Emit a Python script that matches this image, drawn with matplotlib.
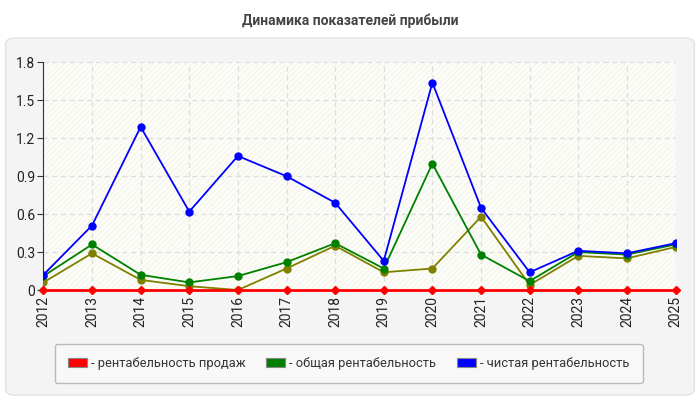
import matplotlib
matplotlib.use("Agg")
import matplotlib.pyplot as plt
from matplotlib.patches import FancyBboxPatch, Rectangle, Patch

plt.rcParams['font.family'] = ['Roboto', 'DejaVu Sans']
plt.rcParams['hatch.linewidth'] = 0.5

years = ['2012', '2013', '2014', '2015', '2016', '2017', '2018',
         '2019', '2020', '2021', '2022', '2023', '2024', '2025']
sales = [0, 0, 0, 0, 0, 0, 0, 0, 0, 0, 0, 0, 0, 0]
total = [0.11, 0.36, 0.12, 0.06, 0.11, 0.22, 0.37, 0.17, 1.00, 0.28, 0.07, 0.30, 0.28, 0.36]
net = [0.12, 0.51, 1.29, 0.62, 1.06, 0.90, 0.69, 0.23, 1.64, 0.65, 0.14, 0.31, 0.29, 0.37]
other = [0.06, 0.29, 0.08, 0.03, 0.00, 0.17, 0.35, 0.14, 0.17, 0.58, 0.04, 0.27, 0.25, 0.34]
yticks = [0, 0.3, 0.6, 0.9, 1.2, 1.5, 1.8]
ylabels = ['0', '0.3', '0.6', '0.9', '1.2', '1.5', '1.8']
legend_labels = ['- рентабельность продаж', '- общая рентабельность', '- чистая рентабельность']

fig = plt.figure(figsize=(7, 4), dpi=100)
fig.patch.set_facecolor('white')

# outer panel
panel = FancyBboxPatch((0.008, 0.012), 0.984, 0.893, boxstyle="round,pad=0,rounding_size=0.015",
                       transform=fig.transFigure, facecolor='#f4f4f4', edgecolor='#e2e2e2',
                       linewidth=1, zorder=-5)
fig.patches.append(panel)

fig.text(0.5, 0.948, 'Динамика показателей прибыли', ha='center', va='center',
         fontsize=10, fontweight='bold', color='#444444')

ax = fig.add_axes([0.062, 0.275, 0.903, 0.569])
ax.set_facecolor('#fdfdf7')
x = list(range(len(years)))
ax.add_patch(Rectangle((0, 0), 1, 1, transform=ax.transAxes, facecolor='none',
                       edgecolor='#f0f0ec', hatch='//////', linewidth=0, zorder=0))

ax.grid(True, color='#dddddd', linestyle=(0, (4, 3)), linewidth=0.9)
ax.set_axisbelow(True)

ax.plot(x, other, color='#808000', marker='o', markersize=5, linewidth=1.3, zorder=3)
ax.plot(x, total, color='#008000', marker='o', markersize=5, linewidth=1.3, zorder=4)
ax.plot(x, net, color='#0000ff', marker='o', markersize=5, linewidth=1.3, zorder=5)
ax.plot(x, sales, color='#ff0000', marker='D', markersize=4, linewidth=2, zorder=6, clip_on=False)

ax.set_xlim(0, len(years) - 1)
ax.set_ylim(0, 1.8)
ax.set_xticks(x)
ax.set_xticklabels(years, rotation=90, fontsize=10, color='#222222')
ax.set_yticks(yticks)
ax.set_yticklabels(ylabels, fontsize=10, color='#222222')
ax.tick_params(axis='x', length=0, pad=4)
ax.tick_params(axis='y', length=4, color='#333333', pad=2)
for s in ['top', 'right', 'bottom']:
    ax.spines[s].set_visible(False)
ax.spines['left'].set_color('#333333')

handles = [Patch(facecolor=c, edgecolor='#888888', linewidth=0.8)
           for c in ['#ff0000', '#008000', '#0000ff']]
leg = fig.legend(handles, legend_labels, loc='center', bbox_to_anchor=(0.498, 0.091),
                 ncol=3, frameon=True, fontsize=9.3, handlelength=1.5, handleheight=0.7,
                 handletextpad=0.3, columnspacing=1.6, borderpad=1.0, fancybox=True)
leg.get_frame().set_facecolor('#fafafa')
leg.get_frame().set_edgecolor('#aaaaaa')
for t in leg.get_texts():
    t.set_color('#333333')

fig.savefig('out.png', dpi=100, facecolor=fig.get_facecolor())
